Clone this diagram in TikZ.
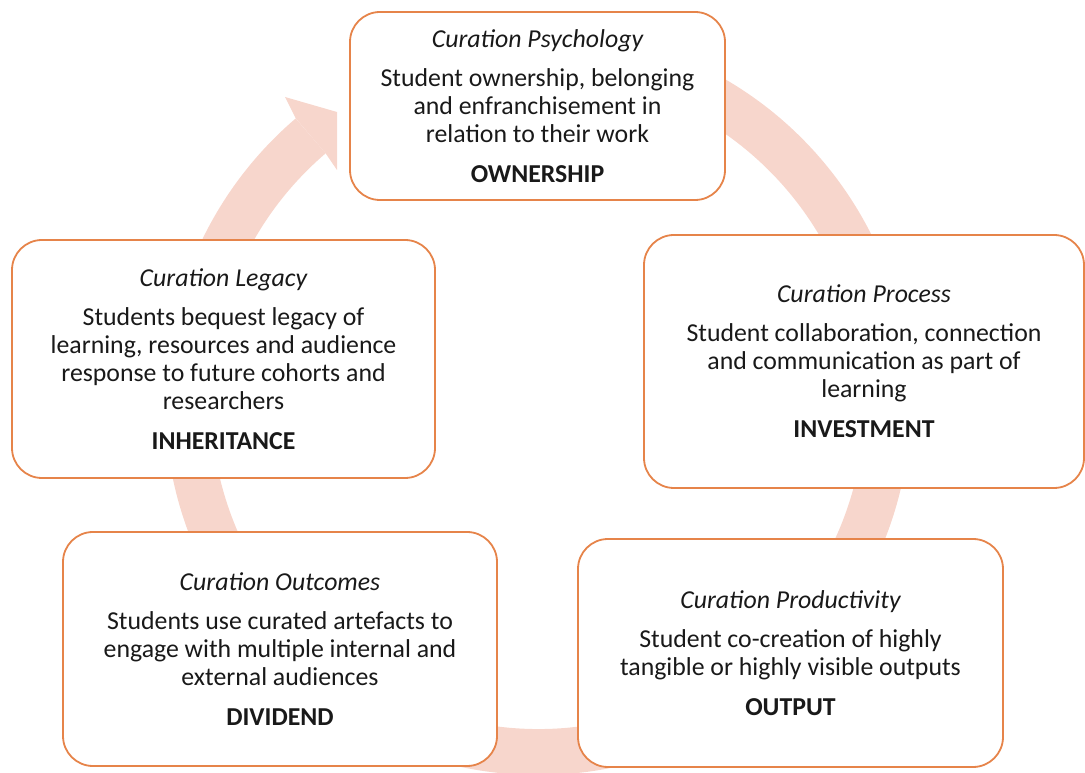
\documentclass[tikz,border=0pt]{standalone}
\usepackage{fontspec}
\setmainfont{Carlito}
\usetikzlibrary{calc}
\definecolor{ringpink}{RGB}{247,214,204}
\definecolor{boxorange}{RGB}{230,132,74}
\tikzset{
	stage/.style={draw=boxorange, line width=1.8pt, fill=white, rounded corners=30pt,
		align=center, inner sep=0pt, text=black!90, font=\fontsize{25.8}{28}\selectfont},
	ring/.style={draw=ringpink, line width=46pt},
}
\newcommand{\stagetext}[3]{{\itshape #1}\\[11pt] #2\\[12pt] {\bfseries #3}}

\begin{document}
\begin{tikzpicture}[x=1pt, y=1pt]
		%%%%% START %%%%%
		\useasboundingbox (0, 0) rectangle (1085, 772);
		\coordinate (C) at (538, 370);
		
		% ring with head
		\draw[ring] ($(C)+(80:350)$) arc (80:-229.5:350);
		\fill[ringpink] ($(C)+(130.5:373)$) -- (285, 675) -- (337, 660) -- (337, 602) -- ($(C)+(130.5:327)$) -- cycle;
		
		% stages
		\node[stage, minimum width=375, minimum height=188] (psych) at (537.5, 666)
			{\stagetext{Curation Psychology}{Student ownership, belonging\\and enfranchisement in\\relation to their work}{OWNERSHIP}};
		\node[stage, minimum width=440, minimum height=253] (process) at (864, 410.5)
			{\stagetext{Curation Process}{Student collaboration, connection\\and communication as part of\\learning}{INVESTMENT}};
		\node[stage, minimum width=425, minimum height=228] (product) at (790.5, 119)
			{\stagetext{Curation Productivity}{Student co-creation of highly\\tangible or highly visible outputs}{OUTPUT}};
		\node[stage, minimum width=434, minimum height=234] (outcome) at (280, 123)
			{\stagetext{Curation Outcomes}{Students use curated artefacts to\\engage with multiple internal and\\external audiences}{DIVIDEND}};
		\node[stage, minimum width=423, minimum height=238] (legacy) at (223.5, 413)
			{\stagetext{Curation Legacy}{Students bequest legacy of\\learning, resources and audience\\response to future cohorts and\\researchers}{INHERITANCE}};
		%%%%% END %%%%%
	\end{tikzpicture}
\end{document}
